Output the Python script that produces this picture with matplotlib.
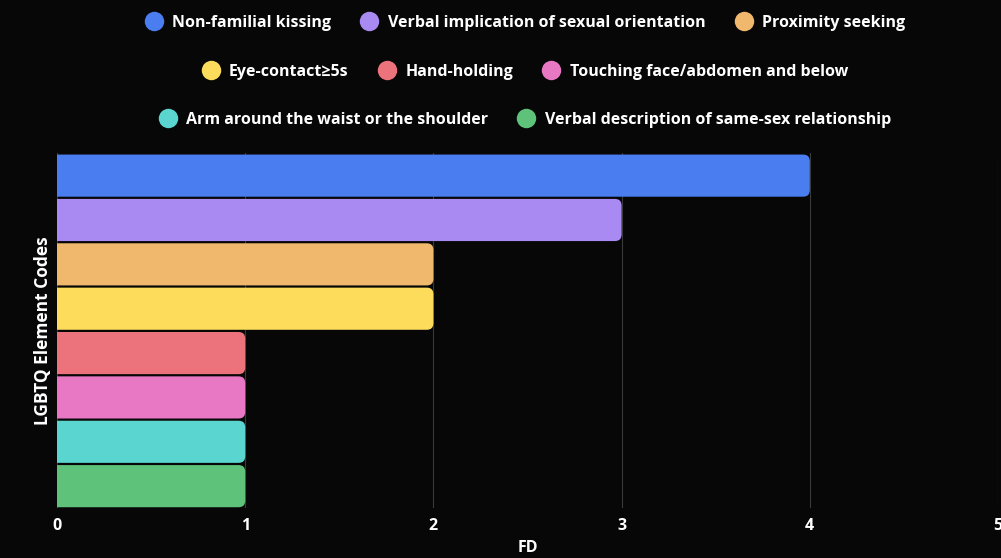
import matplotlib
matplotlib.use("Agg")
import matplotlib.pyplot as plt
from matplotlib.patches import FancyBboxPatch
from matplotlib.lines import Line2D

plt.rcParams['font.family'] = ['Open Sans', 'DejaVu Sans']
plt.rcParams['font.weight'] = 'bold'

categories = [
    "Non-familial kissing",
    "Verbal implication of sexual orientation",
    "Proximity seeking",
    "Eye-contact\u22655s",
    "Hand-holding",
    "Touching face/abdomen and below",
    "Arm around the waist or the shoulder",
    "Verbal description of same-sex relationship",
]
values = [4, 3, 2, 2, 1, 1, 1, 1]
colors = ["#4a7ef0", "#a98af2", "#efb86c", "#fcdc5a",
          "#ec737b", "#e878c4", "#5ad5d0", "#5fc27a"]
xticks = [0, 1, 2, 3, 4, 5]

bg = "#070707"
fig = plt.figure(figsize=(10.01, 5.58), dpi=100, facecolor=bg)
ax = fig.add_axes([0.057, 0.089, 0.940, 0.636], facecolor=bg)

ypos = list(range(len(categories)))[::-1]
bars = ax.barh(ypos, values, height=0.95, color=colors)

# swap the plain rectangles for ones rounded at the right end
for b, c in zip(bars, colors):
    x, y = b.get_x(), b.get_y()
    w, h = b.get_width(), b.get_height()
    b.set_visible(False)
    p = FancyBboxPatch((x - 0.1, y), w + 0.1, h,
                       boxstyle="round,pad=0,rounding_size=0.035",
                       mutation_aspect=4.3, facecolor=c, edgecolor="none",
                       zorder=3)
    ax.add_patch(p)

ax.set_xlim(0, 5)
ax.set_ylim(-0.5, len(categories) - 0.5)
ax.set_xticks(xticks)
ax.set_yticks([])
ax.grid(axis="x", color="#3a3a3a", linewidth=0.8, zorder=0)
for s in ax.spines.values():
    s.set_visible(False)
ax.tick_params(axis="x", length=0, colors="white", labelsize=11.5, pad=7)
for t in ax.get_xticklabels():
    t.set_fontweight("bold")

ax.set_xlabel("FD", color="white", fontsize=11.5, fontweight="bold", labelpad=4)
ax.set_ylabel("LGBTQ Element Codes", color="white", fontsize=12.5,
              fontweight="bold", labelpad=4)

handles = [Line2D([], [], marker="o", linestyle="none", markersize=14,
                  markerfacecolor=c, markeredgecolor="none") for c in colors]
rows = [(0, 3, 0.959), (3, 6, 0.871), (6, 8, 0.785)]
for a, b, yy in rows:
    leg = fig.legend(handles[a:b], categories[a:b], loc="center",
                     bbox_to_anchor=(0.524, yy), ncol=b - a, frameon=False,
                     fontsize=11.5, handletextpad=0.55, columnspacing=1.8,
                     handlelength=1.2)
    for t in leg.get_texts():
        t.set_color("white")
        t.set_fontweight("bold")

fig.savefig("out.png", dpi=100, facecolor=bg)
